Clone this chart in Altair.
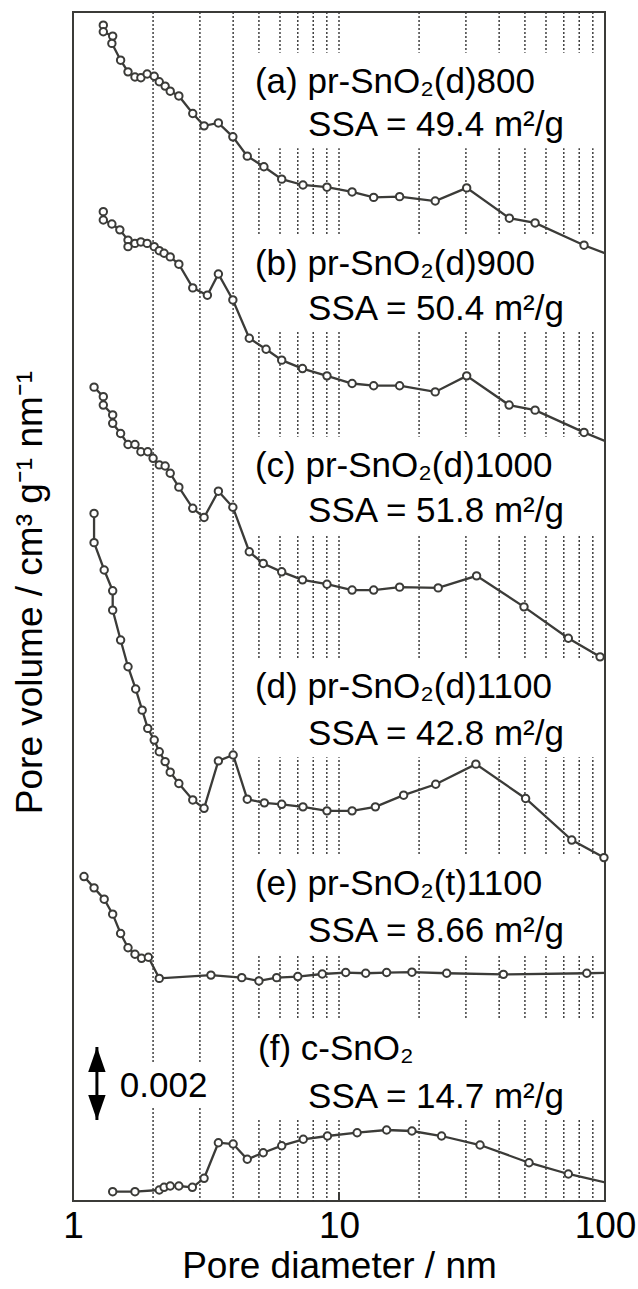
import altair as alt
import pandas as pd

# Pore diameter (nm) and displayed pore volume (10^-3 cm3 g-1 nm-1, vertical offsets included)
a_x = [1.30, 1.30, 1.41, 1.40, 1.51, 1.61, 1.71, 1.80, 1.90, 2.02, 2.11, 2.22, 2.32, 2.50, 2.82, 3.11,
       3.52, 3.99, 4.52, 5.22, 6.09, 7.32, 9.01, 11.2, 13.5, 16.9, 23.0, 30.2, 43.7, 54.6, 83.4, 114]
a_y = [32.22, 32.04, 31.92, 31.72, 31.26, 30.94, 30.80, 30.78, 30.88, 30.82, 30.67, 30.55, 30.41, 30.28,
       29.80, 29.46, 29.54, 29.16, 28.63, 28.34, 28.00, 27.84, 27.78, 27.65, 27.50, 27.52, 27.40, 27.76,
       26.93, 26.80, 26.19, 25.81]
b_x = [1.30, 1.30, 1.40, 1.50, 1.61, 1.61, 1.71, 1.80, 1.90, 2.02, 2.11, 2.20, 2.32, 2.50, 2.82, 3.20,
       3.52, 3.99, 4.60, 5.32, 6.09, 7.29, 9.01, 11.2, 13.5, 16.9, 23.0, 30.2, 43.6, 54.6, 83.4, 114]
b_y = [27.11, 26.88, 26.77, 26.61, 26.33, 26.15, 26.24, 26.28, 26.24, 26.15, 26.04, 25.97, 25.87, 25.67,
       25.02, 24.82, 25.40, 24.69, 23.64, 23.34, 23.04, 22.81, 22.61, 22.40, 22.34, 22.34, 22.17, 22.61,
       21.81, 21.67, 21.06, 20.66]
c_x = [1.20, 1.30, 1.30, 1.41, 1.41, 1.51, 1.61, 1.71, 1.80, 1.91, 2.00, 2.11, 2.22, 2.32, 2.50, 2.82,
       3.11, 3.52, 3.99, 4.60, 5.19, 6.09, 7.29, 9.01, 11.2, 13.5, 16.9, 23.6, 32.9, 49.6, 72.8, 95.8]
c_y = [22.30, 22.04, 21.81, 21.54, 21.31, 21.03, 20.73, 20.73, 20.53, 20.53, 20.35, 20.17, 20.14, 19.94,
       19.56, 18.98, 18.73, 19.45, 19.01, 17.79, 17.47, 17.24, 17.02, 16.90, 16.74, 16.74, 16.82, 16.80,
       17.13, 16.28, 15.42, 14.91]
d_x = [1.20, 1.20, 1.31, 1.41, 1.41, 1.51, 1.61, 1.72, 1.82, 1.91, 2.02, 2.11, 2.22, 2.32, 2.50, 2.82,
       3.11, 3.52, 4.00, 4.52, 5.24, 6.09, 7.32, 9.01, 11.2, 13.7, 17.5, 23.1, 32.7, 50.3, 75.0, 99.1]
d_y = [18.84, 18.04, 17.29, 16.72, 16.19, 15.37, 14.64, 14.03, 13.45, 12.95, 12.63, 12.31, 12.04, 11.75,
       11.44, 10.99, 10.76, 12.06, 12.22, 11.01, 10.91, 10.87, 10.80, 10.69, 10.69, 10.80, 11.12, 11.42,
       11.97, 11.03, 9.89, 9.41]
e_x = [1.10, 1.20, 1.31, 1.41, 1.51, 1.61, 1.71, 1.81, 1.92, 2.11, 3.30, 4.31, 5.00, 5.83, 7.00, 8.65,
       10.6, 12.6, 15.1, 18.8, 25.4, 41.5, 85.4, 114]
e_y = [8.89, 8.58, 8.27, 7.86, 7.33, 6.94, 6.76, 6.65, 6.68, 6.10, 6.19, 6.12, 6.03, 6.12, 6.15, 6.22,
       6.26, 6.24, 6.26, 6.27, 6.24, 6.21, 6.24, 6.26]
f_x = [1.41, 1.71, 2.11, 2.20, 2.32, 2.50, 2.81, 3.11, 3.52, 4.00, 4.52, 5.19, 6.09, 7.34, 9.05, 11.7,
       15.1, 18.8, 24.3, 33.9, 51.8, 72.8, 114]
f_y = [0.255, 0.255, 0.301, 0.375, 0.411, 0.411, 0.375, 0.622, 1.597, 1.562, 1.143, 1.323, 1.515, 1.691,
       1.781, 1.871, 1.945, 1.918, 1.781, 1.534, 1.049, 0.740, 0.414]

series = [("a", a_x, a_y), ("b", b_x, b_y), ("c", c_x, c_y),
          ("d", d_x, d_y), ("e", e_x, e_y), ("f", f_x, f_y)]

# annotation texts
line1 = ["(a) pr-SnO₂(d)800", "(b) pr-SnO₂(d)900", "(c) pr-SnO₂(d)1000",
         "(d) pr-SnO₂(d)1100", "(e) pr-SnO₂(t)1100", "(f) c-SnO₂"]
line2 = ["SSA = 49.4 m²/g", "SSA = 50.4 m²/g", "SSA = 51.8 m²/g",
         "SSA = 42.8 m²/g", "SSA = 8.66 m²/g", "SSA = 14.7 m²/g"]
line1_x = [4.83, 4.83, 4.83, 4.83, 4.83, 4.96]
line1_y = [30.36, 25.37, 19.84, 13.78, 8.38, 3.86]
line2_x = 7.65
line2_y = [29.18, 24.14, 18.60, 12.49, 7.10, 2.55]

grid_values = [2, 3, 4, 5, 6, 7, 8, 9, 10, 20, 30, 40, 50, 60, 70, 80, 90]
x_tick_values = [1, 10, 100]

bar_x = 1.23
bar_y0 = 2.22
bar_len = 2.0          # 0.002 cm3 g-1 nm-1
bar_label = "0.002"

LINE = "#3b3b38"
FONT = "Liberation Sans"
FS = 35
AFS = 37

rows = []
for name, xs_, ys_ in series:
    for i, (x, y) in enumerate(zip(xs_, ys_)):
        rows.append({"curve": name, "order": i, "d": x, "v": y})
df = pd.DataFrame(rows)

txt_rows = []
box_rows = []
for t1, t2, x1, y1, y2 in zip(line1, line2, line1_x, line1_y, line2_y):
    txt_rows.append({"t": t1, "x": x1, "y": y1})
    txt_rows.append({"t": t2, "x": line2_x, "y": y2})
    box_rows.append({"x1": 4.5, "x2": 99.0, "y1": y1 + 1.1, "y2": y2 - 0.33})
bar_text_y = bar_y0 + 0.64
box_rows.append({"x1": 1.6, "x2": 3.3, "y1": bar_text_y - 0.28, "y2": bar_text_y + 0.95})
txt_df = pd.DataFrame(txt_rows)
box_df = pd.DataFrame(box_rows)

xs = alt.Scale(type="log", domain=[1, 100], nice=False)
ys = alt.Scale(domain=[0, 32.58], nice=False, zero=False)

x_axis = alt.Axis(values=x_tick_values, format="d", title="Pore diameter / nm",
                  grid=False, ticks=False, tickSize=0, domain=False,
                  labelFlush=False, labelOverlap=False, labelFontSize=AFS, labelFont=FONT,
                  labelColor="black", labelPadding=36, labelBaseline="alphabetic",
                  titleFontSize=AFS, titleFont=FONT, titleFontWeight="normal",
                  titleColor="black", titleBaseline="alphabetic", titleAlign="center",
                  titleX=266, titleY=76)
y_axis = alt.Axis(title="Pore volume / cm³ g⁻¹ nm⁻¹", labels=False, ticks=False,
                  domain=False, grid=False, titleFontSize=AFS, titleFont=FONT,
                  titleFontWeight="normal", titleColor="black", titleAngle=270,
                  titleAlign="center", titleBaseline="middle", titleX=-43, titleY=580)


def X(field):
    return alt.X(field, scale=xs, axis=x_axis)


def Y(field):
    return alt.Y(field, scale=ys, axis=y_axis)


grid = alt.Chart(pd.DataFrame({"g": grid_values})).mark_rule(
    color="#333333", strokeWidth=1.4, strokeDash=[2, 2]
).encode(x=X("g:Q"))

boxes = alt.Chart(box_df).mark_rect(fill="white").encode(
    x=X("x1:Q"), x2="x2:Q", y=Y("y1:Q"), y2="y2:Q")

lines = alt.Chart(df).mark_line(color=LINE, strokeWidth=2.3, clip=True).encode(
    x=X("d:Q"), y=Y("v:Q"), detail="curve:N", order="order:Q")

points = alt.Chart(df).transform_filter("datum.d <= 100").mark_point(
    shape="circle", filled=True, fill="white", stroke=LINE, strokeWidth=2, size=55, opacity=1
).encode(x=X("d:Q"), y=Y("v:Q"))

texts = alt.Chart(txt_df).mark_text(
    align="left", baseline="alphabetic", font=FONT, fontSize=FS, color="black"
).encode(x=X("x:Q"), y=Y("y:Q"), text="t:N")

bar_df = pd.DataFrame({"x": [bar_x], "y0": [bar_y0], "y1": [bar_y0 + bar_len],
                       "tx": [1.50], "ty": [bar_text_y], "t": [bar_label]})
shaft = alt.Chart(bar_df).mark_rule(color="black", strokeWidth=3).encode(
    x=X("x:Q"), y=Y("y0:Q"), y2="y1:Q")
head_up = alt.Chart(bar_df).mark_point(
    shape="M0,0L0.7,2L-0.7,2Z", filled=True, color="black", size=620, opacity=1
).encode(x=X("x:Q"), y=Y("y1:Q"))
head_dn = alt.Chart(bar_df).mark_point(
    shape="M0,0L0.7,-2L-0.7,-2Z", filled=True, color="black", size=620, opacity=1
).encode(x=X("x:Q"), y=Y("y0:Q"))
bar_txt = alt.Chart(bar_df).mark_text(
    align="left", baseline="alphabetic", font=FONT, fontSize=FS, color="black"
).encode(x=X("tx:Q"), y=Y("ty:Q"), text="t:N")

tick10 = alt.Chart(pd.DataFrame({"x": [10]})).mark_rule(color=LINE, strokeWidth=2).encode(
    x=X("x:Q"), y=alt.value(1189), y2=alt.value(1180))

chart = alt.layer(
    grid, boxes, lines, points, texts, shaft, head_up, head_dn, bar_txt, tick10
).properties(
    width=532, height=1189,
    autosize=alt.AutoSizeParams(type="none"),
    padding={"left": 73, "top": 12, "right": 33, "bottom": 88},
    background="white",
).configure_view(stroke=LINE, strokeWidth=2)

chart.save("out.html", embed_options={"renderer": "svg", "actions": False})
